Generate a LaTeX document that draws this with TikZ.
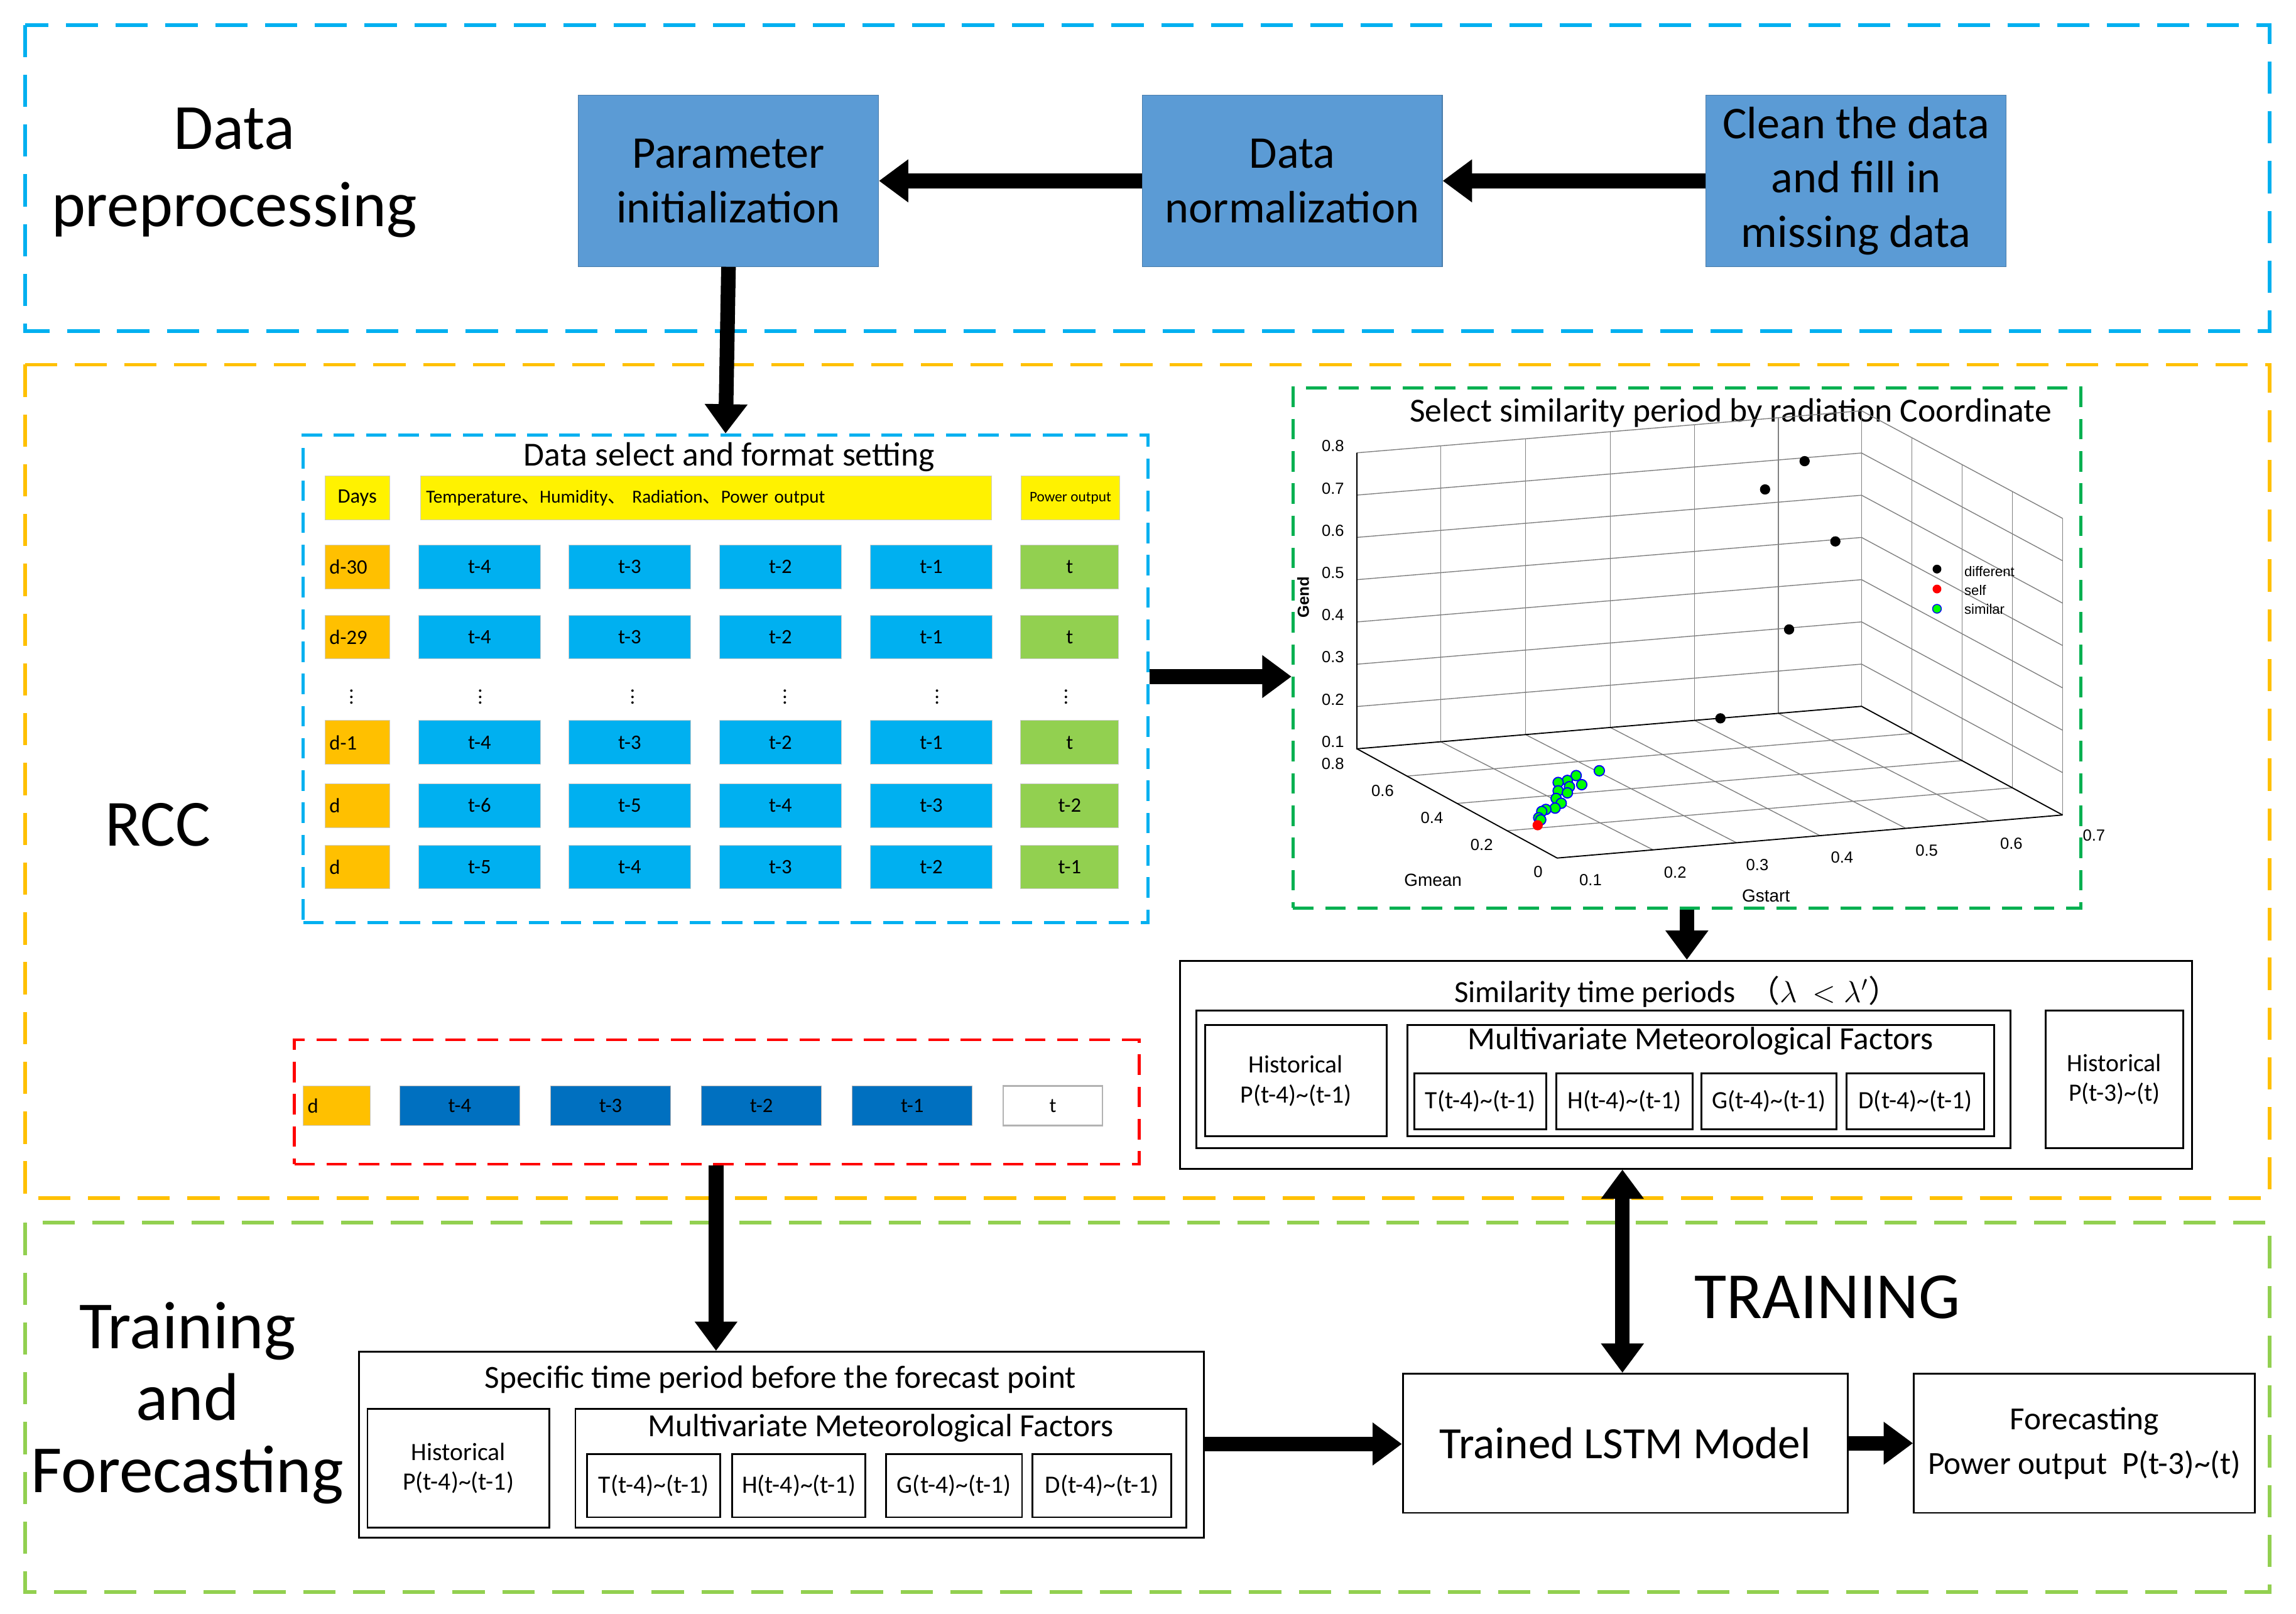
\documentclass[tikz,border=0pt]{standalone}
\usepackage{fontspec}
\setmainfont{Carlito}
\newfontfamily\arialf{Liberation Sans}
\newfontfamily\cjk{Noto Sans CJK SC}
\usetikzlibrary{arrows.meta,calc}
\definecolor{cyanb}{RGB}{0,176,240}
\definecolor{orng}{RGB}{255,192,0}
\definecolor{grn}{RGB}{146,208,80}
\definecolor{stepb}{RGB}{91,155,213}
\definecolor{dkb}{RGB}{0,112,192}
\definecolor{plotg}{RGB}{0,176,80}
\newcommand{\fs}[1]{\fontsize{#1pt}{1.2\dimexpr#1pt\relax}\selectfont}
\tikzset{
 big/.style={dash pattern=on 22pt off 12pt, line width=2.5pt},
 small/.style={dash pattern=on 14pt off 8pt, line width=2pt},
 stepbox/.style={fill=stepb, draw=stepb!80!black, line width=0.5pt, minimum width=205pt, minimum height=117pt, align=center, font=\fs{31}},
 cell/.style={minimum height=30pt, inner sep=0pt, font=\fs{14}, draw=gray!40, line width=0.4pt},
 wbox/.style={draw=black, line width=1.2pt, inner sep=0pt},
 fat/.style={line width=10pt, -{Triangle[width=28pt,length=20pt]}},
 mydot/.style={circle, inner sep=0pt, minimum size=7pt},
 tk/.style={font=\arialf\fs{11}},
}
\begin{document}
\begin{tikzpicture}[x=1pt,y=-1pt]
\useasboundingbox (0,0) rectangle (1568,1102);
% section boxes
\draw[big, cyanb] (17,17) rectangle (1550,226);
\draw[big, orng] (17,249) rectangle (1550,818);
\draw[big, grn] (17,835) rectangle (1550,1087);
% top section
\node[align=center, font=\fs{44}] (dp) at (160,118) {Data\\preprocessing};
\node[stepbox] (pi) at (497.5,123.5) {Parameter\\initialization};
\node[stepbox] (dn) at (882.5,123.5) {Data\\normalization};
\node[stepbox] (cl) at (1267.5,123.5) {Clean the data\\and fill in\\missing data};
\draw[fat] (cl.west) -- (dn.east);
\draw[fat] (dn.west) -- (pi.east);
% data select
\node[draw=cyanb, small, minimum width=577pt, minimum height=333pt, inner sep=0pt] (ds) at (495.5,463.5) {};
\node[font=\fs{23}] (dst) at (498,312) {Data select and format setting};
\draw[fat] (pi.south) -- (ds.north);
% header
\node[cell, fill=yellow, minimum width=44pt, font=\fs{14}] (h0) at (244,340) {Days};
\node[cell, fill=yellow, minimum width=390pt, font=\fs{12.5}, text width=382pt, align=left] (h1) at (482,340) {Temperature{\cjk 、}Humidity{\cjk 、} Radiation{\cjk 、}Power output};
\node[cell, fill=yellow, minimum width=67pt, font=\fs{10}] (h2) at (731,340) {Power output};
\foreach \r/\y/\d/\a/\b/\c/\e/\f in {1/387/d-30/t-4/t-3/t-2/t-1/t, 2/435/d-29/t-4/t-3/t-2/t-1/t, 3/507/d-1/t-4/t-3/t-2/t-1/t, 4/550/d/t-6/t-5/t-4/t-3/t-2, 5/592/d/t-5/t-4/t-3/t-2/t-1}{
 \node[cell, fill=orng, minimum width=44pt, text width=38pt, align=left] (r\r d) at (244,\y) {\d};
 \node[cell, fill=cyanb, minimum width=83pt] (r\r a) at (327.5,\y) {\a};
 \node[cell, fill=cyanb, minimum width=83pt] (r\r b) at (430,\y) {\b};
 \node[cell, fill=cyanb, minimum width=83pt] (r\r c) at (533,\y) {\c};
 \node[cell, fill=cyanb, minimum width=83pt] (r\r e) at (636,\y) {\e};
 \node[cell, fill=grn, minimum width=67pt] (r\r f) at (730.5,\y) {\f};
}
\foreach \x [count=\i] in {240,328,432,536,640,728}{
 \node[font=\fs{14}, inner sep=0pt] (dots\i) at (\x,473) {\vdots};
}
% RCC
\node[font=\fs{45}] (rcc) at (108,563) {RCC};
% plot
\node[draw=plotg, small, minimum width=538pt, minimum height=355pt, inner sep=0pt] (pl) at (1152,442.5) {};
\node[font=\fs{23}] (plt) at (1182,282) {Select similarity period by radiation Coordinate};
\draw[fat] (ds.east |- 0,462) -- (pl.west |- 0,462);
\coordinate (A) at (926.7,511.3);
\coordinate (B) at (1271.3,482.3);
\coordinate (C) at (1408.6,556.5);
\coordinate (D) at (1063.4,585.9);
\coordinate (A2) at (926.7,309.2);
\coordinate (B2) at (1271.3,280.5);
\coordinate (C2) at (1408.6,354);
\begin{scope}[gray, line width=0.6pt]
 \foreach \f in {0.166,0.334,0.502,0.669,0.835}{
  \draw ($(A)!\f!(B)$) -- ($(A2)!\f!(B2)$);}
 \foreach \f in {0.25,0.5,0.75}{
  \draw ($(B)!\f!(C)$) -- ($(B2)!\f!(C2)$);
  \draw ($(A)!\f!(D)$) -- ($(B)!\f!(C)$);}
 \foreach \f/\g in {0.166/0.19,0.334/0.355,0.502/0.52,0.669/0.69,0.835/0.855}{
  \draw ($(A)!\f!(B)$) -- ($(D)!\g!(C)$);}
 \foreach \k in {1,...,7}{
  \draw ($(A)!\k/7!(A2)$) -- ($(B)!\k/7!(B2)$) -- ($(C)!\k/7!(C2)$);}
 \draw (B) -- (B2);
 \draw (C) -- (C2);
\end{scope}
\draw[black, line width=0.8pt] (A2) -- (A) -- (B) -- (C);
\draw[black, line width=0.8pt] (A) -- (D) -- (C);
\foreach \y/\t in {304.5/0.8,333.5/0.7,362.2/0.6,391/0.5,419.9/0.4,448.6/0.3,477.6/0.2,506.3/0.1}{
 \node[tk] at (910.3,\y) {\t};}
\foreach \x/\y/\t in {910.2/521.6/0.8,944.2/540/0.6,977.9/558.4/0.4,1011.9/577/0.2,1050.4/595.3/0}{
 \node[tk] at (\x,\y) {\t};}
\foreach \x/\y/\t in {1086.2/600.8/0.1,1144/595.8/0.2,1200.1/590.6/0.3,1258/585.5/0.4,1315.8/580.7/0.5,1373.6/575.8/0.6,1430/570.6/0.7}{
 \node[tk] at (\x,\y) {\t};}
\node[tk, rotate=90, font=\arialf\bfseries\fs{11}] (gend) at (889.9,408) {Gend};
\node[tk, font=\arialf\fs{12}] (gmean) at (978.6,600.8) {Gmean};
\node[tk, font=\arialf\fs{12}] (gstart) at (1206,611.8) {Gstart};
\foreach \x/\y in {1232.4/314.9,1205.4/334.2,1253.4/369.7,1221.8/429.8,1174.9/490.5}{
 \node[mydot, fill=black] at (\x,\y) {};}
\foreach \x/\y in {1092.2/526.3,1076.4/529.6,1070.4/532.9,1064.1/534.3,1080.2/535.8,1071.8/537.2,1064.1/540.0,1070.4/541.4,1062.7/545.2,1066.2/548.5,1062.0/551.8,1055.7/552.7,1052.9/554.1,1050.8/558.4,1052.2/559.8}{
 \node[mydot, fill=green, draw=blue, line width=0.8pt] at (\x,\y) {};}
\node[mydot, fill=red] at (1050.1,563.5) {};
\node[mydot, fill=black, minimum size=6pt] at (1322.8,388.6) {};
\node[mydot, fill=red, minimum size=6pt] at (1322.8,402.2) {};
\node[mydot, fill=green, draw=blue, line width=0.6pt, minimum size=6pt] at (1322.8,415.7) {};
\node[tk, anchor=west, font=\arialf\fs{9.5}] at (1338,390) {different};
\node[tk, anchor=west, font=\arialf\fs{9.5}] at (1338,403) {self};
\node[tk, anchor=west, font=\arialf\fs{9.5}] at (1338,416) {similar};
% similarity box
\node[wbox, minimum width=691pt, minimum height=142pt] (sim) at (1151.5,727) {};
\node[font=\fs{21}] (simt) at (1145,677) {Similarity time periods \ {\cjk （}$\lambda\ <\lambda'${\cjk ）}};
\draw[fat] (pl.south -| 1152,0) -- (sim.north -| 1152,0);
\node[wbox, minimum width=556pt, minimum height=94pt] (simin) at (1095,737) {};
\node[wbox, minimum width=124pt, minimum height=76pt, align=center, font=\fs{17}] (h1s) at (885,738) {Historical\\P(t-4)\textasciitilde(t-1)};
\node[wbox, minimum width=401pt, minimum height=76pt] (mm1) at (1161.5,738) {};
\node[font=\fs{22}] (mm1t) at (1161.5,711) {Multivariate Meteorological Factors};
\foreach \x/\w/\t [count=\i] in {1011/90/T, 1109.5/93/H, 1208/92/G, 1308/94/D}{
 \node[wbox, minimum width=\w pt, minimum height=38pt, font=\fs{17}] (s\i) at (\x,752) {\t(t-4)\textasciitilde(t-1)};}
\node[wbox, minimum width=94pt, minimum height=94pt, align=center, font=\fs{17}] (h2s) at (1444,737) {Historical\\P(t-3)\textasciitilde(t)};
% red box
\node[draw=red, small, minimum width=577pt, minimum height=85pt, inner sep=0pt] (rb) at (489.5,752.5) {};
\node[cell, fill=orng, minimum width=46pt, minimum height=27pt, text width=40pt, align=left] (rd) at (230,755) {d};
\foreach \x/\t [count=\i] in {314/t-4,417/t-3,520/t-2,623/t-1}{
 \node[cell, fill=dkb, minimum width=82pt, minimum height=27pt, draw=gray!60] (rc\i) at (\x,755) {\t};}
\node[cell, fill=white, minimum width=68pt, minimum height=27pt, draw=gray!60, line width=1pt] (rt) at (719,755) {t};
% training section
\node[align=center, font=\fs{46}] (tf) at (128,958) {Training\\[-6pt]and\\[-6pt]Forecasting};
\node[font=\fs{45}] (trn) at (1248,886) {TRAINING};
\node[wbox, minimum width=577pt, minimum height=127pt] (sp) at (533.5,986.5) {};
\node[font=\fs{22}] (spt) at (533,942) {Specific time period before the forecast point};
\draw[fat] (rb.south -| 489,0) -- (sp.north -| 489,0);
\node[wbox, minimum width=124pt, minimum height=81pt, align=center, font=\fs{17}] (h3) at (313,1002.5) {Historical\\P(t-4)\textasciitilde(t-1)};
\node[wbox, minimum width=417pt, minimum height=81pt] (mm2) at (601.5,1002.5) {};
\node[font=\fs{22}] (mm2t) at (601.5,975) {Multivariate Meteorological Factors};
\foreach \x/\w/\t [count=\i] in {446.5/91/T, 545.5/91/H, 651.5/93/G, 752.5/95/D}{
 \node[wbox, minimum width=\w pt, minimum height=43pt, font=\fs{17}] (q\i) at (\x,1014.5) {\t(t-4)\textasciitilde(t-1)};}
\node[wbox, minimum width=304pt, minimum height=95pt, font=\fs{30.5}] (lstm) at (1110,985.5) {Trained LSTM Model};
\node[wbox, minimum width=233pt, minimum height=95pt, align=center, font=\fs{22}] (fc) at (1423.5,985.5) {Forecasting\\[4pt]Power output\ \ P(t-3)\textasciitilde(t)};
\draw[fat] (sp.east |- 0,986) -- (lstm.west |- 0,986);
\draw[fat] (lstm.east) -- (fc.west);
\draw[line width=10pt, {Triangle[width=28pt,length=20pt]}-{Triangle[width=28pt,length=20pt]}] (sim.south -| 1108,0) -- (lstm.north -| 1108,0);
\end{tikzpicture}
\end{document}
